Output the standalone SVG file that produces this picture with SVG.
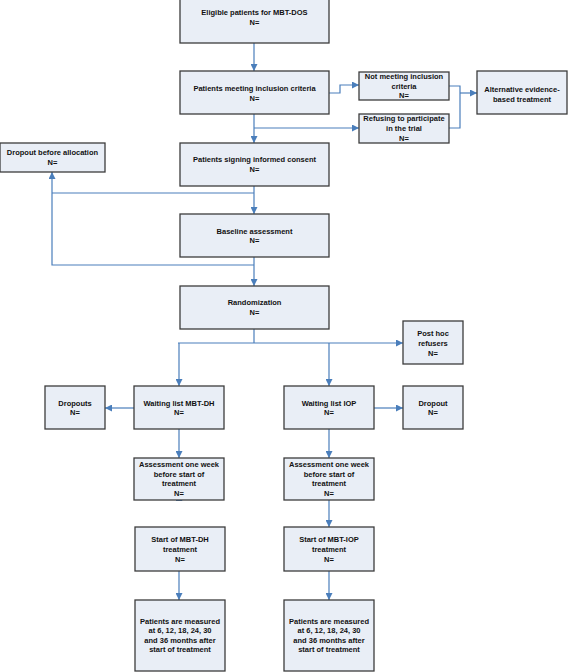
<svg xmlns="http://www.w3.org/2000/svg" width="568" height="672" viewBox="0 0 568 672">
<defs>
<style>
.b{fill:#e9eef6;stroke:#3c3c3c;stroke-width:1.3}
.t{font-family:"Liberation Sans",Arial,sans-serif;font-size:7.5px;font-weight:bold;fill:#111;text-anchor:middle}
.c{fill:none;stroke:#4a7ebb;stroke-width:1.2}
</style>
<marker id="a" viewBox="0 0 10 10" refX="10" refY="5" markerWidth="7" markerHeight="7" markerUnits="userSpaceOnUse" orient="auto">
<path d="M0,0 L10,5 L0,10 z" fill="#4a7ebb"/>
</marker>
</defs>
<rect width="568" height="672" fill="#fff"/>
<g id="connectors">
<path class="c" d="M254,43 V71" marker-end="url(#a)"/>
<path class="c" d="M329,93 H340 V85 H359" marker-end="url(#a)"/>
<path class="c" d="M254,114 V143" marker-end="url(#a)"/>
<path class="c" d="M254,128 H359" marker-end="url(#a)"/>
<path class="c" d="M449,86 H460 V128 H449"/>
<path class="c" d="M460,93 H477" marker-end="url(#a)"/>
<path class="c" d="M254,186 V214" marker-end="url(#a)"/>
<path class="c" d="M254,193 H52"/>
<path class="c" d="M254,265 H52 V172" marker-end="url(#a)"/>
<path class="c" d="M254,257 V286" marker-end="url(#a)"/>
<path class="c" d="M254,329 V343"/>
<path class="c" d="M178,343 H403" marker-end="url(#a)"/>
<path class="c" d="M179,343 V386" marker-end="url(#a)"/>
<path class="c" d="M329,343 V386" marker-end="url(#a)"/>
<path class="c" d="M134,408 H105" marker-end="url(#a)"/>
<path class="c" d="M374,408 H403" marker-end="url(#a)"/>
<path class="c" d="M179,429 V458" marker-end="url(#a)"/>
<path class="c" d="M329,429 V458" marker-end="url(#a)"/>
<path class="c" d="M329,500 V527" marker-end="url(#a)"/>
<path class="c" d="M179,500 V494" marker-end="url(#a)"/>
<path class="c" d="M179,571 V600" marker-end="url(#a)"/>
<path class="c" d="M329,571 V600" marker-end="url(#a)"/>
</g>
<g id="eligible"><rect class="b" x="180" y="-1" width="149" height="44"/>
<text class="t" x="254.5" y="15">Eligible patients for MBT-DOS</text><text class="t" x="254.5" y="24.5">N=</text></g>
<g id="inclusion"><rect class="b" x="180" y="71" width="149" height="43"/>
<text class="t" x="254.5" y="90.5">Patients meeting inclusion  criteria</text><text class="t" x="254.5" y="100.5">N=</text></g>
<g id="notmeeting"><rect class="b" x="359" y="72" width="90" height="28"/>
<text class="t" x="404" y="79">Not meeting inclusion</text><text class="t" x="404" y="88.5">criteria</text><text class="t" x="404" y="97.5">N=</text></g>
<g id="refusing"><rect class="b" x="359" y="114" width="90" height="29"/>
<text class="t" x="404" y="121">Refusing to participate</text><text class="t" x="404" y="131">in the trial</text><text class="t" x="404" y="140.5">N=</text></g>
<g id="alternative"><rect class="b" x="477" y="71" width="90" height="43"/>
<text class="t" x="522" y="91.5">Alternative evidence-</text><text class="t" x="522" y="101.5">based treatment</text></g>
<g id="consent"><rect class="b" x="180" y="143" width="149" height="43"/>
<text class="t" x="254.5" y="162">Patients signing informed consent</text><text class="t" x="254.5" y="172">N=</text></g>
<g id="dropoutalloc"><rect class="b" x="0" y="143" width="105" height="29"/>
<text class="t" x="52.5" y="155">Dropout before allocation</text><text class="t" x="52.5" y="165">N=</text></g>
<g id="baseline"><rect class="b" x="180" y="214" width="149" height="43"/>
<text class="t" x="254.5" y="233.5">Baseline assessment</text><text class="t" x="254.5" y="243">N=</text></g>
<g id="randomization"><rect class="b" x="180" y="286" width="149" height="43"/>
<text class="t" x="254.5" y="305">Randomization</text><text class="t" x="254.5" y="315">N=</text></g>
<g id="posthoc"><rect class="b" x="403" y="321" width="60" height="43"/>
<text class="t" x="433" y="336">Post hoc</text><text class="t" x="433" y="346">refusers</text><text class="t" x="433" y="356">N=</text></g>
<g id="dropouts"><rect class="b" x="45" y="386" width="60" height="43"/>
<text class="t" x="75" y="405.5">Dropouts</text><text class="t" x="75" y="415">N=</text></g>
<g id="waitdh"><rect class="b" x="134" y="386" width="90" height="43"/>
<text class="t" x="179" y="405.5">Waiting list MBT-DH</text><text class="t" x="179" y="415">N=</text></g>
<g id="waitiop"><rect class="b" x="284" y="386" width="90" height="43"/>
<text class="t" x="329" y="405.5">Waiting list IOP</text><text class="t" x="329" y="415">N=</text></g>
<g id="dropout"><rect class="b" x="403" y="386" width="60" height="43"/>
<text class="t" x="433" y="405.5">Dropout</text><text class="t" x="433" y="415">N=</text></g>
<g id="assessdh"><rect class="b" x="134" y="458" width="90" height="42"/>
<text class="t" x="179" y="467">Assessment one week</text><text class="t" x="179" y="476.5">before start of</text><text class="t" x="179" y="486">treatment</text><text class="t" x="179" y="495.5">N=</text></g>
<g id="assessiop"><rect class="b" x="284" y="458" width="90" height="42"/>
<text class="t" x="329" y="467">Assessment one week</text><text class="t" x="329" y="476.5">before start of</text><text class="t" x="329" y="486">treatment</text><text class="t" x="329" y="495.5">N=</text></g>
<g id="startdh"><rect class="b" x="135" y="527" width="90" height="44"/>
<text class="t" x="180" y="542">Start of MBT-DH</text><text class="t" x="180" y="552">treatment</text><text class="t" x="180" y="561.5">N=</text></g>
<g id="startiop"><rect class="b" x="284" y="527" width="90" height="44"/>
<text class="t" x="329" y="542">Start of MBT-IOP</text><text class="t" x="329" y="552">treatment</text><text class="t" x="329" y="561.5">N=</text></g>
<g id="measdh"><rect class="b" x="135" y="600" width="90" height="71"/>
<text class="t" x="180" y="623.5">Patients are measured</text><text class="t" x="180" y="633">at 6, 12, 18, 24, 30</text><text class="t" x="180" y="642.5">and 36 months after</text><text class="t" x="180" y="652">start of treatment</text></g>
<g id="measiop"><rect class="b" x="284" y="600" width="90" height="71"/>
<text class="t" x="329" y="623.5">Patients are measured</text><text class="t" x="329" y="633">at 6, 12, 18, 24, 30</text><text class="t" x="329" y="642.5">and 36 months after</text><text class="t" x="329" y="652">start of treatment</text></g>
</svg>
